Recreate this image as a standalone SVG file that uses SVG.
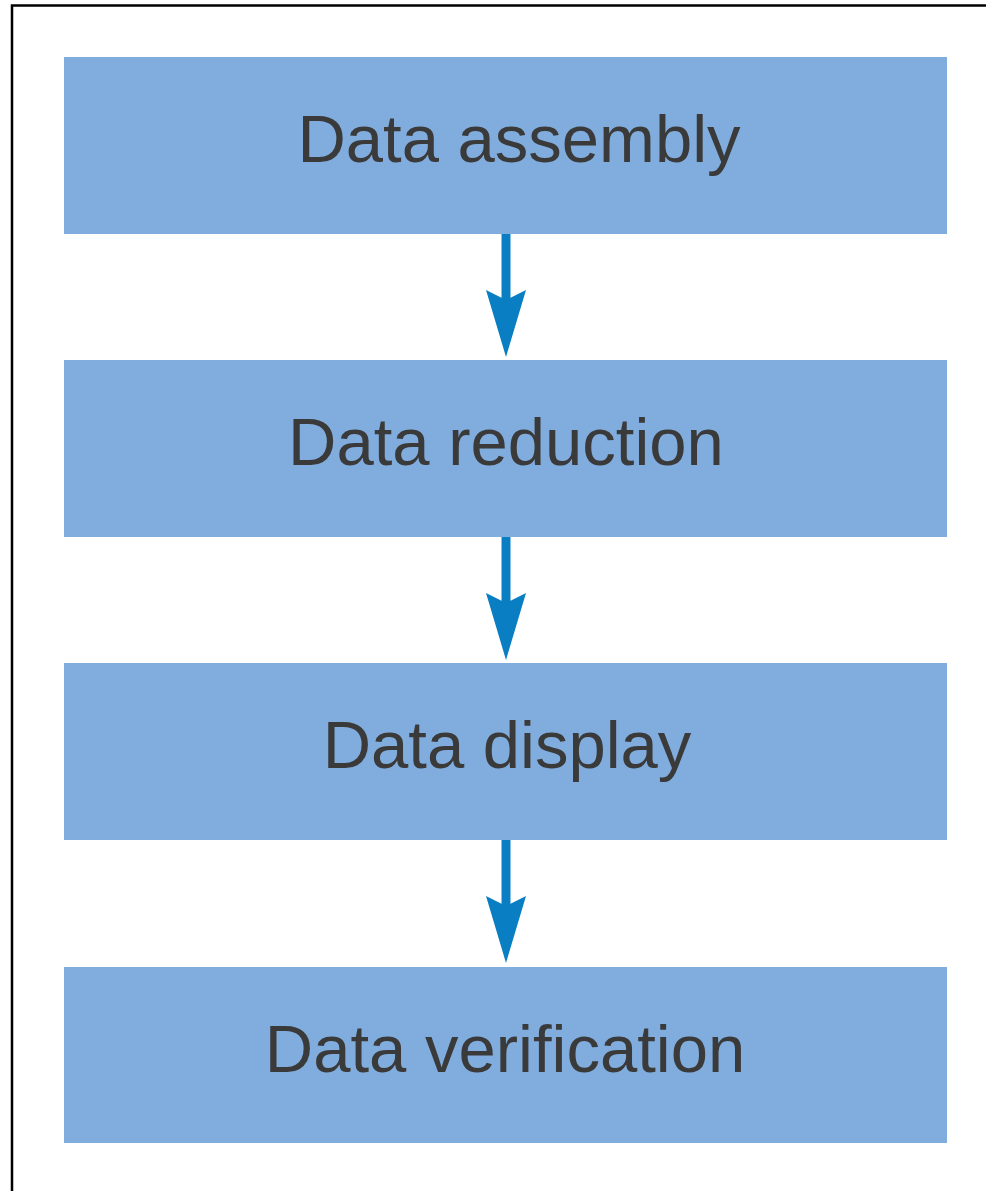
<svg xmlns="http://www.w3.org/2000/svg" width="986" height="1191" viewBox="0 0 986 1191">
<style>
.box{fill:#80addd}
.lbl{font-family:"Liberation Sans",Arial,sans-serif;font-size:67px;fill:#3a3a3a;text-anchor:middle}
.shaft{stroke:#0a7ec2;stroke-width:9;fill:none}
.head{fill:#0a7ec2}
</style>
<rect width="986" height="1191" fill="#ffffff"/>
<path d="M12 1191 V5.5 H986" fill="none" stroke="#000" stroke-width="2.5"/>
<g id="node-assembly"><rect class="box" x="64" y="57" width="883" height="177"/><text class="lbl" x="519" y="162">Data assembly</text></g>
<g id="node-reduction"><rect class="box" x="64" y="360" width="883" height="177"/><text class="lbl" x="506" y="465">Data reduction</text></g>
<g id="node-display"><rect class="box" x="64" y="663" width="883" height="177"/><text class="lbl" x="507" y="768">Data display</text></g>
<g id="node-verification"><rect class="box" x="64" y="967" width="883" height="176"/><text class="lbl" x="505" y="1072">Data verification</text></g>
<g id="connectors">
<line class="shaft" x1="506" y1="234" x2="506" y2="300"/>
<path class="head" d="M486 290 L506 300 L526 290 L506 357 Z"/>
<line class="shaft" x1="506" y1="537" x2="506" y2="603"/>
<path class="head" d="M486 593 L506 603 L526 593 L506 660 Z"/>
<line class="shaft" x1="506" y1="840" x2="506" y2="906"/>
<path class="head" d="M486 896 L506 906 L526 896 L506 963 Z"/>
</g>
</svg>
